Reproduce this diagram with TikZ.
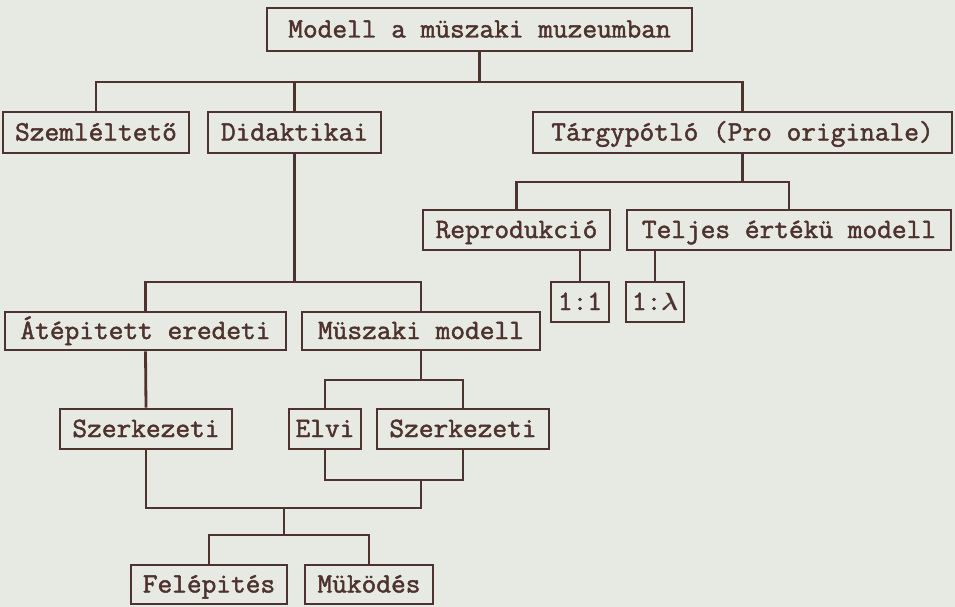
\documentclass[tikz,border=0pt]{standalone}
\usepackage{amsmath}
\usepackage{fontspec}
\setmonofont{Latin Modern Mono}[FakeStretch=1.02,FakeBold=1.7]
\definecolor{ink}{RGB}{78,50,46}
\definecolor{paper}{RGB}{231,234,226}
\begin{document}
\begin{tikzpicture}[x=1pt,y=-1pt,
  box/.style={draw=ink, line width=2.8pt, text=ink, inner sep=0pt,
    font=\ttfamily\fontsize{28}{33}\selectfont, text height=17pt, text depth=1pt,
    minimum height=40pt},
  wire/.style={draw=ink, line width=2.8pt}]
\fill[paper] (0,0) rectangle (955,607);
\useasboundingbox (0,0) rectangle (955,607);

% nodes
\node[box, minimum width=425pt, minimum height=43pt] (top) at (479.5,29.5) {Modell a müszaki muzeumban};
\node[box, minimum width=186pt, minimum height=41pt] (szem) at (96,132.5) {Szemléltető};
\node[box, minimum width=173pt, minimum height=41pt] (didak) at (294.5,132.5) {Didaktikai};
\node[box, minimum width=419pt, minimum height=41pt] (targy) at (742.5,132.5) {Tárgypótló (Pro originale)};
\node[box, minimum width=187pt] (repr) at (516.5,230) {Reprodukció};
\node[box, minimum width=324pt] (teljes) at (789,230) {Teljes értékü modell};
\node[box, minimum width=58pt] (one) at (580,302) {1:1};
\node[box, minimum width=58pt] (lam) at (655,302) {1:$\boldsymbol{\lambda}$};
\node[box, minimum width=281pt, minimum height=38pt] (atep) at (145.5,331) {Átépitett eredeti};
\node[box, minimum width=238pt, minimum height=38pt] (musz) at (421,331) {Müszaki modell};
\node[box, minimum width=172pt] (szerka) at (146,429) {Szerkezeti};
\node[box, minimum width=72pt] (elvi) at (325,429) {Elvi};
\node[box, minimum width=172pt] (szerkb) at (463,429) {Szerkezeti};
\node[box, minimum width=156pt, minimum height=39pt] (felep) at (209,584.5) {Felépités};
\node[box, minimum width=128pt, minimum height=39pt] (mukod) at (369,584.5) {Müködés};

% junction levels
\coordinate (h1) at (0,82);
\coordinate (h2) at (0,182);
\coordinate (h3) at (0,282);
\coordinate (h4) at (0,380);
\coordinate (h5) at (0,480);
\coordinate (h6) at (0,508);
\coordinate (h7) at (0,535);
\coordinate (jm) at (421,480);
\coordinate (jb) at (284,508);

% level 1
\draw[wire] (szem.north) -- (szem.north |- h1) -- (targy.north |- h1) -- (targy.north);
\draw[wire] (didak.north) -- (didak.north |- h1);
\draw[wire] (top.south) -- (top.south |- h1);
% Tárgypótló
\draw[wire] (repr.north) -- (repr.north |- h2) -- (teljes.north |- h2) -- (teljes.north);
\draw[wire] (targy.south) -- (targy.south |- h2);
\draw[wire] (one.north) -- (one.north |- repr.south);
\draw[wire] (lam.north) -- (lam.north |- teljes.south);
% Didaktikai
\draw[wire] (atep.north) -- (atep.north |- h3) -- (musz.north |- h3) -- (musz.north);
\draw[wire] (didak.south) -- (didak.south |- h3);
\draw[wire] (atep.south) -- (szerka.north);
% Müszaki modell
\draw[wire] (elvi.north) -- (elvi.north |- h4) -- (szerkb.north |- h4) -- (szerkb.north);
\draw[wire] (musz.south) -- (musz.south |- h4);
% converging
\draw[wire] (elvi.south) -- (elvi.south |- h5) -- (szerkb.south |- h5) -- (szerkb.south);
\draw[wire] (szerka.south) -- (szerka.south |- h6) -- (jm |- h6) -- (jm);
\draw[wire] (felep.north) -- (felep.north |- h7) -- (mukod.north |- h7) -- (mukod.north);
\draw[wire] (jb) -- (jb |- h7);
\end{tikzpicture}
\end{document}
